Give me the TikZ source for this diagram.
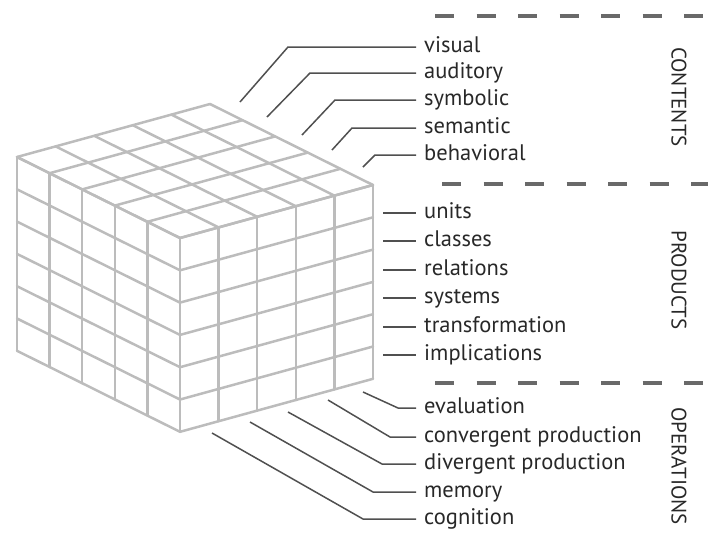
\documentclass[tikz,border=0pt]{standalone}
\usepackage{fontspec}
\setmainfont{PT Sans}
\usepackage{tikz}
\usetikzlibrary{calc}

\definecolor{gridgray}{RGB}{188,188,188}
\definecolor{leadgray}{RGB}{80,80,80}
\definecolor{textgray}{RGB}{40,40,40}
\definecolor{dashgray}{RGB}{105,105,105}

\tikzset{
  cubeline/.style={gridgray,line width=2.5pt,line cap=round,line join=round},
  lead/.style={leadgray,line width=1.5pt},
  lbl/.style={anchor=west,inner xsep=8pt,inner ysep=0pt,text height=11pt,text depth=0pt,
    text=textgray,font=\fontsize{22.5}{26}\selectfont},
  catlbl/.style={rotate=-90,inner sep=0pt,text=textgray,font=\fontsize{21}{24}\selectfont},
  sepline/.style={dashgray,line width=3.5pt,dash pattern=on 19pt off 22.5pt}
}

\begin{document}
\begin{tikzpicture}[x=1pt,y=-1pt]
\useasboundingbox (0,0) rectangle (708,547);

% cube, front top corner at (180,238)
\begin{scope}[cubeline]
  \foreach \i in {0,...,5} {
    \draw (180+38.6*\i,238-10.6*\i) -- ++(0,193.8);
    \draw (180-32.6*\i,238-16.2*\i) -- ++(0,193.8);
    \draw (180+38.6*\i,238-10.6*\i) -- ++(-163,-81);
    \draw (180-32.6*\i,238-16.2*\i) -- ++(193,-53);
  }
  \foreach \j in {0,...,6} {
    \draw (180,238+32.3*\j) -- ++(193,-53);
    \draw (180,238+32.3*\j) -- ++(-163,-81);
  }
\end{scope}

% contents
\foreach \t/\y/\bx/\sx/\sy [count=\k] in {visual/47/288/240/102, auditory/73/310/267/117,
    symbolic/100/335/302/135, semantic/128/352/332/150, behavioral/155/375/363/167} {
  \node[lbl] (con\k) at (416,\y) {\t};
  \coordinate (conbend\k) at (\bx,\y);
  \coordinate (conend\k) at (\sx,\sy);
  \draw[lead] (conend\k) -- (conbend\k) -- (con\k.west);
}

% products
\foreach \t/\y [count=\k] in {units/213, classes/241, relations/270, systems/298,
    transformation/327, implications/355} {
  \node[lbl] (prod\k) at (416,\y) {\t};
  \coordinate (prodend\k) at (383,\y);
  \draw[lead] (prodend\k) -- (prod\k.west);
}

% operations
\foreach \t/\y/\bx/\sx/\sy [count=\k] in {evaluation/408/398/363/392,
    convergent production/437/390/328/400, divergent production/464/382/288/412,
    memory/492/373/250/422, cognition/519/363/212/433} {
  \node[lbl] (op\k) at (416,\y) {\t};
  \coordinate (opbend\k) at (\bx,\y);
  \coordinate (opend\k) at (\sx,\sy);
  \draw[lead] (opend\k) -- (opbend\k) -- (op\k.west);
}

\node[catlbl] (contents) at (679,97) {CONTENTS};
\node[catlbl] (products) at (679,280) {PRODUCTS};
\node[catlbl] (operations) at (679,466) {OPERATIONS};

\draw[sepline] (435,16) -- (708,16);
\draw[sepline] (442,184) -- (708,184);
\draw[sepline] (435,383) -- (708,383);
\end{tikzpicture}
\end{document}
